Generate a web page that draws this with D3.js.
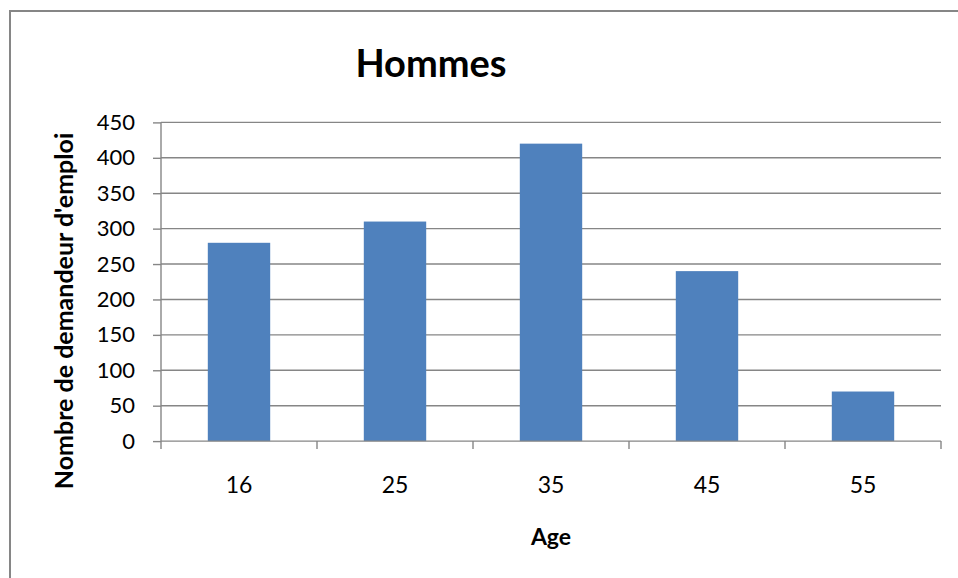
<!DOCTYPE html>
<html>
<head>
<meta charset="utf-8">
<script src="https://cdn.jsdelivr.net/npm/d3@7"></script>
<style>
  html, body { margin: 0; padding: 0; background: #fff; }
  svg { display: block; }
  text { font-family: Lato, "Open Sans", sans-serif; fill: #000; }
</style>
</head>
<body>
<svg id="chart" width="958" height="578"></svg>
<script>
// Job seekers (men) by age group
const categories = ["16", "25", "35", "45", "55"];
const values = [280, 310, 420, 240, 70];
const yTicks = [0, 50, 100, 150, 200, 250, 300, 350, 400, 450];
const title = "Hommes";
const xTitle = "Age";
const yTitle = "Nombre de demandeur d'emploi";

const svg = d3.select("#chart");
const W = 958, H = 578;
const plot = { left: 161, right: 941, top: 122.4, bottom: 441.1 };
const gridColor = "#868686";

// Outer chart frame (runs past the right and bottom edges)
svg.append("rect")
  .attr("x", 10).attr("y", 11)
  .attr("width", W + 20).attr("height", H + 20)
  .attr("fill", "none").attr("stroke", gridColor).attr("stroke-width", 2);

const x = d3.scaleBand()
  .domain(categories)
  .range([plot.left, plot.right])
  .paddingInner(0.6)
  .paddingOuter(0.3);

const y = d3.scaleLinear()
  .domain([0, 450])
  .range([plot.bottom, plot.top]);

// Horizontal gridlines
svg.append("g")
  .selectAll("line")
  .data(yTicks.filter(d => d > 0))
  .join("line")
  .attr("x1", plot.left).attr("x2", plot.right)
  .attr("y1", d => y(d)).attr("y2", d => y(d))
  .attr("stroke", gridColor).attr("stroke-width", 1.4);

// Y axis
const yAxis = svg.append("g")
  .attr("transform", `translate(${plot.left},0)`)
  .call(d3.axisLeft(y).tickValues(yTicks).tickSize(8).tickPadding(18));
yAxis.select(".domain").attr("stroke", gridColor).attr("stroke-width", 1.4)
  .attr("d", `M0,${plot.top}V${plot.bottom}`);
yAxis.selectAll(".tick line").attr("stroke", gridColor).attr("stroke-width", 1.4);
yAxis.selectAll(".tick text")
  .style("font-family", "Lato, sans-serif")
  .style("font-size", "22px")
  .attr("fill", "#000");

// Bars
svg.append("g")
  .selectAll("rect")
  .data(values)
  .join("rect")
  .attr("x", (d, i) => x(categories[i]))
  .attr("y", d => y(d))
  .attr("width", x.bandwidth())
  .attr("height", d => y(0) - y(d))
  .attr("fill", "#4F81BD");

// X axis baseline with ticks at category boundaries
const boundaries = d3.range(categories.length + 1).map(i => plot.left + i * x.step());
svg.append("line")
  .attr("x1", plot.left).attr("x2", plot.right)
  .attr("y1", plot.bottom).attr("y2", plot.bottom)
  .attr("stroke", gridColor).attr("stroke-width", 1.4);
svg.append("g")
  .selectAll("line")
  .data(boundaries)
  .join("line")
  .attr("x1", d => d).attr("x2", d => d)
  .attr("y1", plot.bottom).attr("y2", plot.bottom + 8)
  .attr("stroke", gridColor).attr("stroke-width", 1.4);

// Category labels
svg.append("g")
  .selectAll("text")
  .data(categories)
  .join("text")
  .attr("x", d => x(d) + x.bandwidth() / 2)
  .attr("y", 493)
  .attr("text-anchor", "middle")
  .style("font-size", "23px")
  .text(d => d);

// Titles
svg.append("text")
  .attr("x", 431).attr("y", 77)
  .attr("text-anchor", "middle")
  .style("font-size", "38px").style("font-weight", "bold")
  .text(title);

svg.append("text")
  .attr("x", (plot.left + plot.right) / 2).attr("y", 545)
  .attr("text-anchor", "middle")
  .style("font-size", "23px").style("font-weight", "bold")
  .text(xTitle);

svg.append("text")
  .attr("transform", `translate(73,${(131 + 491) / 2}) rotate(-90)`)
  .attr("text-anchor", "middle")
  .style("font-size", "25px").style("font-weight", "bold")
  .text(yTitle);
</script>
</body>
</html>
